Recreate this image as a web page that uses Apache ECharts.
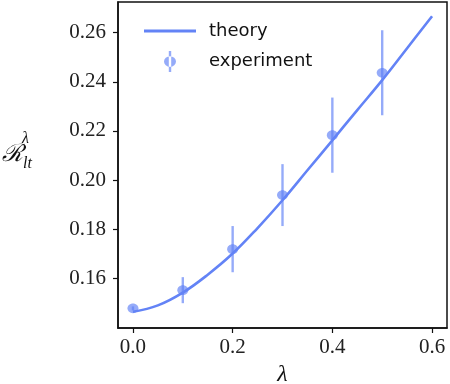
<!DOCTYPE html>
<html>
<head>
<meta charset="utf-8">
<script src="https://cdn.jsdelivr.net/npm/echarts@6/dist/echarts.min.js"></script>
<style>
  html, body { margin: 0; padding: 0; background: #fff; }
  #chart { width: 450px; height: 384px; }
</style>
</head>
<body>
<div id="chart"></div>
<script>
// theory curve
const theoryX = [0, 0.05, 0.1, 0.15, 0.2, 0.25, 0.3, 0.35, 0.4, 0.45, 0.5, 0.55, 0.6]
const theoryY = [0.1464, 0.1490, 0.1542, 0.1615, 0.1701, 0.1805, 0.1918, 0.2040, 0.2162, 0.2285, 0.2407, 0.2537, 0.2667]
// experiment points with error bars
const expX = [0, 0.1, 0.2, 0.3, 0.4, 0.5]
const expY = [0.1478, 0.1552, 0.1719, 0.1939, 0.2183, 0.2437]
const expErr = [0.0008, 0.0053, 0.0094, 0.0126, 0.0153, 0.0173]
const xTicks = [0, 0.2, 0.4, 0.6]
const yTicks = [0.16, 0.18, 0.20, 0.22, 0.24, 0.26]

const lineColor = '#6383f6'
const expColor = 'rgba(99,131,246,0.68)'
const serif = '"Liberation Serif", "DejaVu Serif", serif'
const sans = '"DejaVu Sans", sans-serif'

const chart = echarts.init(document.getElementById('chart'))
chart.setOption({
    animation: false,
    grid: {
        left: 118, right: 3, top: 2, bottom: 56,
        outerBoundsMode: 'none',
        containLabel: false,
        show: true,
        borderColor: '#111',
        borderWidth: 1.5,
        backgroundColor: 'transparent'
    },
    legend: [
        {
            data: [{ name: 'theory', icon: 'path://M0,0h52v3h-52z' }],
            left: 139, top: 17,
            itemWidth: 52, itemHeight: 3,
            textStyle: { fontFamily: sans, fontSize: 18, color: '#111', padding: [0, 0, 0, 8] }
        },
        {
            data: [{
                name: 'experiment',
                icon: 'path://M4.8,0h2.4v21h-2.4z M0,10.5a6,5.2 0 1,0 12,0a6,5.2 0 1,0 -12,0z',
                itemStyle: { color: expColor }
            }],
            left: 159, top: 46,
            itemWidth: 12, itemHeight: 21,
            textStyle: { fontFamily: sans, fontSize: 18, color: '#111', padding: [0, 0, 0, 28] }
        }
    ],
    xAxis: {
        type: 'value',
        min: -0.03,
        max: 0.63,
        name: 'λ',
        nameLocation: 'middle',
        nameGap: 35,
        nameTextStyle: { fontFamily: serif, fontStyle: 'italic', fontSize: 24, color: '#111' },
        axisLine: { show: true, onZero: false, lineStyle: { color: '#111', width: 1.5 } },
        splitLine: { show: false },
        axisTick: { show: true, inside: false, length: 5, customValues: xTicks, lineStyle: { color: '#111', width: 1.2 } },
        axisLabel: {
            customValues: xTicks,
            margin: 9,
            fontFamily: serif, fontSize: 21, color: '#222',
            formatter: v => v.toFixed(1)
        }
    },
    yAxis: {
        type: 'value',
        min: 0.1398,
        max: 0.2725,
        name: '{sp|}{sup|λ}\n{r|ℛ}{sub|lt}',
        nameLocation: 'middle',
        nameRotate: 0,
        nameGap: 116,
        nameTextStyle: {
            color: '#111',
            align: 'left',
            padding: [0, 0, 30, 0],
            rich: {
                sp: { width: 20, lineHeight: 10 },
                r: { fontFamily: '"DejaVu Serif", serif', fontStyle: 'italic', fontSize: 24, lineHeight: 22 },
                sup: { fontFamily: serif, fontStyle: 'italic', fontSize: 16, lineHeight: 10 },
                sub: { fontFamily: serif, fontStyle: 'italic', fontSize: 16, lineHeight: 22, verticalAlign: 'bottom', padding: [0, 0, -6, 0] }
            }
        },
        axisLine: { show: true, onZero: false, lineStyle: { color: '#111', width: 1.5 } },
        splitLine: { show: false },
        axisTick: { show: true, inside: false, length: 5, customValues: yTicks, lineStyle: { color: '#111', width: 1.2 } },
        axisLabel: {
            customValues: yTicks,
            margin: 12,
            fontFamily: serif, fontSize: 21, color: '#222',
            formatter: v => v.toFixed(2)
        }
    },
    series: [
        {
            name: 'theory',
            type: 'line',
            data: theoryX.map((x, i) => [x, theoryY[i]]),
            smooth: 0.4,
            showSymbol: false,
            lineStyle: { color: lineColor, width: 2.6 },
            itemStyle: { color: lineColor },
            z: 3
        },
        {
            name: 'experiment',
            type: 'custom',
            data: expX.map((x, i) => [x, expY[i], expErr[i]]),
            itemStyle: { color: expColor },
            renderItem: (params, api) => {
                const x = api.value(0), y = api.value(1), e = api.value(2)
                const top = api.coord([x, y + e])
                const bot = api.coord([x, y - e])
                const c = api.coord([x, y])
                return {
                    type: 'group',
                    children: [
                        {
                            type: 'line',
                            shape: { x1: top[0], y1: top[1], x2: bot[0], y2: bot[1] },
                            style: { stroke: expColor, lineWidth: 2.4 }
                        },
                        {
                            type: 'ellipse',
                            shape: { cx: c[0], cy: c[1], rx: 5.5, ry: 4.8 },
                            style: { fill: expColor }
                        }
                    ]
                }
            },
            z: 2
        }
    ]
})
</script>
</body>
</html>
